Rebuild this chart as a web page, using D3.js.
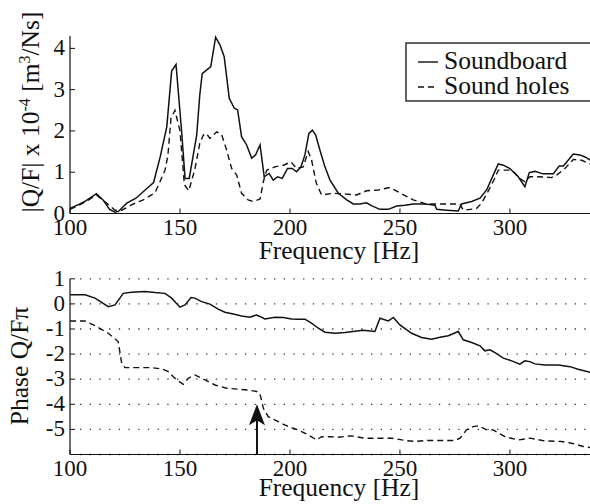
<!DOCTYPE html>
<html>
<head>
<meta charset="utf-8">
<script src="https://cdn.jsdelivr.net/npm/d3@7"></script>
<style>
  body { margin: 0; background: #fff; }
</style>
</head>
<body>
<div id="chart"></div>
<script>
// |Q/F| x 1e-4, [frequency Hz, value]
const magSoundboard = [[100,0.12],[104,0.22],[107,0.3],[109,0.37],[112,0.48],[115,0.33],[118,0.1],[120.5,0.03],[122,0.05],[125.8,0.25],[130,0.37],[134.8,0.6],[138,0.75],[141,1.37],[144,2.1],[146.2,3.45],[148.2,3.61],[150.8,1.95],[152.3,0.85],[154.2,0.85],[157.6,1.9],[159,2.87],[160.1,3.39],[164,3.56],[166.2,4.27],[168.2,4.08],[170.1,3.8],[172.4,2.79],[174.7,2.55],[176.2,2.51],[178,1.86],[180.3,1.66],[182.6,1.34],[184.4,1.42],[186.4,1.66],[188.3,0.89],[190.5,0.97],[192.4,0.81],[194.4,0.89],[196.5,0.85],[198.9,1.09],[201,1.09],[203,1.01],[205,1.13],[206.8,1.42],[208.6,1.94],[210.2,2.02],[211.7,1.9],[213.6,1.54],[215.9,1.13],[218.2,0.81],[222,0.49],[225.8,0.33],[228.8,0.23],[231.8,0.23],[234.8,0.26],[237,0.19],[240.9,0.1],[244.7,0.1],[248.5,0.18],[252.3,0.2],[256,0.23],[260.6,0.23],[263.6,0.22],[265.9,0.2],[266.7,0.1],[271.2,0.08],[276.5,0.06],[278,0.23],[282.6,0.29],[286.4,0.37],[289.4,0.57],[292.4,0.93],[294.7,1.2],[297,1.17],[300,1.09],[303.8,0.89],[306.8,0.65],[308.8,0.99],[311.4,1.02],[315,0.96],[319.7,0.96],[322.4,1.15],[324.3,1.15],[328.8,1.44],[331.8,1.42],[334.1,1.37],[336.4,1.3]];
const magSoundHoles = [[100,0.1],[104,0.2],[107.6,0.3],[112,0.45],[116.7,0.25],[120.5,0.08],[123.5,0.08],[128.8,0.23],[133.3,0.33],[138.6,0.5],[140.9,0.77],[143.2,1.05],[144.5,1.4],[145.9,2.3],[147.7,2.5],[150,2.0],[152,0.7],[154,0.55],[156.8,1.08],[159,1.7],[160.6,1.9],[162,1.94],[163.6,1.82],[166.7,1.98],[169,1.9],[171.2,1.54],[173.5,1.09],[175.8,0.93],[178,0.49],[181,0.33],[183.3,0.29],[186.4,0.35],[187.9,0.77],[189.4,1.05],[193.2,1.13],[197,1.17],[200.5,1.25],[203,1.09],[206,1.13],[208.3,1.5],[209.8,1.3],[212,0.73],[214.4,0.45],[219.7,0.49],[225.8,0.47],[230.3,0.45],[234.8,0.55],[240.2,0.57],[245.5,0.63],[250,0.5],[256,0.33],[262,0.23],[268,0.23],[277.3,0.23],[278.8,0.08],[284.8,0.12],[287.1,0.25],[290,0.53],[292.7,0.81],[294.7,1.05],[297.6,1.05],[300.8,1.05],[304.5,0.85],[306.8,0.77],[309,0.89],[312.9,0.89],[318.9,0.87],[321.2,0.93],[325,1.09],[328.8,1.31],[332.6,1.29],[336.4,1.2]];

// phase Q/F in units of pi
const phaseSoundboard = [[100,0.36],[106.8,0.36],[111.4,0.23],[117.4,-0.11],[120.5,-0.04],[124.2,0.42],[128,0.46],[134,0.49],[138.6,0.45],[143.2,0.42],[146.2,0.23],[150,-0.13],[152.3,-0.04],[155,0.25],[156.8,0.23],[159.8,0.09],[163.6,-0.01],[167.4,-0.21],[170.4,-0.33],[174.2,-0.4],[178,-0.48],[181.8,-0.53],[184.8,-0.44],[186.3,-0.5],[188.6,-0.6],[193.2,-0.53],[197,-0.54],[200.7,-0.6],[203.8,-0.61],[206.8,-0.61],[209.8,-0.77],[212.9,-0.97],[215.9,-1.13],[220.5,-1.17],[225,-1.14],[229.5,-1.09],[233.3,-1.05],[238.6,-1.1],[240.9,-0.57],[244.7,-0.68],[247,-0.54],[250,-0.84],[255.3,-1.17],[259.8,-1.34],[264.4,-1.41],[268.2,-1.33],[272,-1.27],[276.5,-1.1],[278.8,-1.43],[282.6,-1.54],[286.4,-1.67],[288.6,-1.87],[290.9,-1.83],[293.2,-1.94],[297,-2.16],[300.8,-2.27],[304.5,-2.4],[306.8,-2.27],[309,-2.3],[311.4,-2.39],[315.9,-2.43],[322,-2.43],[327.3,-2.5],[331,-2.6],[336.4,-2.72]];
const phaseSoundHoles = [[100,-0.68],[106.8,-0.68],[112.1,-0.9],[117.4,-1.17],[121.9,-1.5],[123.5,-2.36],[125,-2.54],[131,-2.54],[137.1,-2.54],[141.7,-2.59],[144.7,-2.7],[148.5,-3.03],[151.5,-3.2],[153.8,-2.96],[156.8,-2.83],[161.4,-3.03],[165.9,-3.23],[171.2,-3.36],[176.5,-3.4],[181,-3.43],[184.8,-3.49],[186.3,-3.56],[187.9,-4.16],[190.1,-4.49],[194.7,-4.69],[199.2,-4.89],[203.8,-5.02],[208.3,-5.22],[212.1,-5.42],[214.4,-5.29],[218.2,-5.29],[222,-5.31],[228,-5.26],[234.1,-5.35],[240.1,-5.35],[246.2,-5.35],[252.3,-5.44],[256.8,-5.48],[262.9,-5.44],[268.9,-5.44],[275,-5.44],[277.3,-5.35],[280.3,-5.02],[283.3,-4.89],[285.6,-4.86],[289.4,-5.02],[292.4,-5.02],[297.7,-5.29],[303.8,-5.42],[309.1,-5.35],[315.9,-5.46],[323.5,-5.48],[328,-5.55],[333.3,-5.68],[336.4,-5.72]];

const freqTicks = [100, 150, 200, 250, 300];
const magTicks = [0, 1, 2, 3, 4];
const phaseTicks = [1, 0, -1, -2, -3, -4, -5];
const phaseGrid = [1, 0, -1, -2, -3, -4, -5, -6];
const legendNames = ["Soundboard", "Sound holes"];
const arrowAt = { freq: 185, phase: -4 };

const W = 590, H = 504;
const TICK_FS = 23, LABEL_FS = 25.5;
const svg = d3.select("#chart").append("svg")
  .attr("width", W).attr("height", H)
  .style("font-family", "'Liberation Serif', 'DejaVu Serif', serif");

const x = d3.scaleLinear().domain([100, 336.4]).range([70, 590]);
const yMag = d3.scaleLinear().domain([0, 4.3]).range([213.5, 36]);
const yPh = d3.scaleLinear().domain([-6, 1]).range([454.5, 278.8]);

const line = (ys) => d3.line().x(d => x(d[0])).y(d => ys(d[1]));

function drawAxes(ys, yTicks, baseY, labelY) {
  // left and bottom lines with inward ticks
  svg.append("line").attr("x1", x(100)).attr("x2", W).attr("y1", baseY).attr("y2", baseY)
    .attr("stroke", "#111").attr("stroke-width", 1.2);
  svg.append("line").attr("x1", x(100)).attr("x2", x(100)).attr("y1", baseY).attr("y2", ys(ys.domain()[1]))
    .attr("stroke", "#111").attr("stroke-width", 1.2);
  svg.selectAll(null).data(freqTicks).enter().append("line")
    .attr("x1", d => x(d)).attr("x2", d => x(d))
    .attr("y1", baseY).attr("y2", baseY - 5)
    .attr("stroke", "#111").attr("stroke-width", 1);
  svg.selectAll(null).data(yTicks).enter().append("line")
    .attr("x1", x(100)).attr("x2", x(100) + 5)
    .attr("y1", d => ys(d)).attr("y2", d => ys(d))
    .attr("stroke", "#111").attr("stroke-width", 1);
  svg.selectAll(null).data(freqTicks).enter().append("text")
    .attr("x", d => x(d)).attr("y", baseY + 21)
    .attr("text-anchor", "middle").attr("font-size", TICK_FS).attr("fill", "#111").text(d => d);
  svg.selectAll(null).data(yTicks).enter().append("text")
    .attr("x", 65).attr("y", d => ys(d) + 7)
    .attr("text-anchor", "end").attr("font-size", TICK_FS).attr("fill", "#111").text(d => d);
  svg.append("text").attr("x", 339).attr("y", labelY)
    .attr("text-anchor", "middle").attr("font-size", LABEL_FS).attr("fill", "#111").text("Frequency [Hz]");
}

// ---- top: magnitude
drawAxes(yMag, magTicks, yMag(0), 259);

svg.append("path").datum(magSoundHoles).attr("d", line(yMag))
  .attr("fill", "none").attr("stroke", "#111").attr("stroke-width", 1.4).attr("stroke-dasharray", "6,4");
svg.append("path").datum(magSoundboard).attr("d", line(yMag))
  .attr("fill", "none").attr("stroke", "#111").attr("stroke-width", 1.5);

const yl = svg.append("text").attr("transform", "translate(39,112) rotate(-90)")
  .attr("text-anchor", "middle").attr("font-size", LABEL_FS).attr("fill", "#111");
yl.append("tspan").text("|Q/F| x 10");
yl.append("tspan").attr("font-size", 16).attr("dy", -9).text("-4");
yl.append("tspan").attr("dy", 9).text(" [m");
yl.append("tspan").attr("font-size", 16).attr("dy", -9).text("3");
yl.append("tspan").attr("dy", 9).text("/Ns]");

// legend
const lg = svg.append("g");
lg.append("rect").attr("x", 406).attr("y", 43).attr("width", 186).attr("height", 58)
  .attr("fill", "#fff").attr("stroke", "#111").attr("stroke-width", 1.3);
legendNames.forEach((name, i) => {
  const cy = 62 + i * 25;
  lg.append("line").attr("x1", 418).attr("x2", 438).attr("y1", cy).attr("y2", cy)
    .attr("stroke", "#111").attr("stroke-width", 1.4)
    .attr("stroke-dasharray", i === 1 ? "6,4" : null);
  lg.append("text").attr("x", 444).attr("y", cy + 6.5).attr("font-size", LABEL_FS).attr("fill", "#111").text(name);
});

// ---- bottom: phase
svg.selectAll(null).data(phaseGrid).enter().append("line")
  .attr("x1", x(100) + 10).attr("x2", W).attr("y1", d => yPh(d)).attr("y2", d => yPh(d))
  .attr("stroke", "#333").attr("stroke-width", 1.3).attr("stroke-dasharray", "1.3,8.4");
drawAxes(yPh, phaseTicks, yPh(-6), 496);

svg.append("path").datum(phaseSoundHoles).attr("d", line(yPh))
  .attr("fill", "none").attr("stroke", "#111").attr("stroke-width", 1.4).attr("stroke-dasharray", "6,4");
svg.append("path").datum(phaseSoundboard).attr("d", line(yPh))
  .attr("fill", "none").attr("stroke", "#111").attr("stroke-width", 1.5);

svg.append("text").attr("transform", "translate(28,366) rotate(-90)")
  .attr("text-anchor", "middle").attr("font-size", LABEL_FS).attr("fill", "#111").text("Phase Q/F\u03c0");

// arrow
const ax = x(arrowAt.freq), ay = yPh(arrowAt.phase);
svg.append("line").attr("x1", ax).attr("x2", ax).attr("y1", yPh(-6)).attr("y2", ay + 14)
  .attr("stroke", "#111").attr("stroke-width", 2);
svg.append("path")
  .attr("d", `M${ax},${ay} L${ax - 8},${ay + 21} L${ax},${ay + 16} L${ax + 8},${ay + 21} Z`)
  .attr("fill", "#111");
</script>
</body>
</html>
